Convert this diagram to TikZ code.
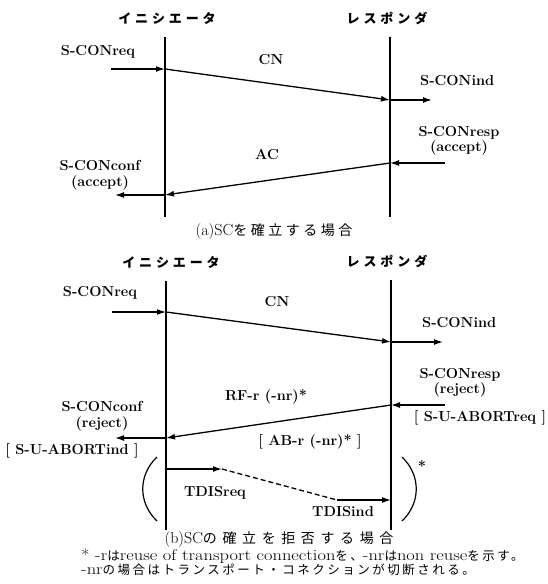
\documentclass[tikz,border=0pt]{standalone}
\usepackage{fontspec}
\usepackage{graphicx}
\usetikzlibrary{arrows.meta}
\newfontfamily\jpfont{Noto Sans CJK JP}
% Japanese runs inside the footnote lines
\newcommand\jp[1]{{\fontsize{12.5}{12}\jpfont\addfontfeatures{LetterSpace=20}#1}}
% Latin runs inside the footnote lines, set wide
\newcommand\wl[1]{\scalebox{1.19}[1]{#1}}
\newcommand\jpcap[1]{{\fontsize{14}{14}\jpfont\addfontfeatures{LetterSpace=25}#1}}
\newcommand\jpcapwide[1]{{\fontsize{14}{14}\jpfont\addfontfeatures{LetterSpace=40}#1}}

\tikzset{
  lifeline/.style={line width=1.4pt},
  msg/.style={line width=1.3pt, -{Latex[length=9pt,width=6pt]}},
  dashmsg/.style={line width=1.3pt, dash pattern=on 5pt off 3pt},
  lbl/.style={inner sep=0pt, font=\fontsize{14.5}{15.5}\selectfont\bfseries, align=center},
  head/.style={inner sep=0pt, font=\fontsize{13}{14}\selectfont\jpfont\bfseries\addfontfeatures{LetterSpace=30}},
  caption/.style={inner sep=0pt, font=\fontsize{16}{16}\selectfont},
  note/.style={inner sep=0pt, font=\fontsize{15.5}{14}\selectfont, anchor=north west, align=left,
    execute at begin node={\lineskiplimit=-20pt\lineskip=0pt}},
  paren/.style={line width=1.2pt}
}

\begin{document}
\begin{tikzpicture}[x=1pt, y=-1pt]
\useasboundingbox (0,0) rectangle (548,584);

% ---------------- (a) connection established ----------------
\node[head] (hiA) at (167,18) {イニシエータ};
\node[head] (hrA) at (387,18) {レスポンダ};

\coordinate (iTopA) at (165,37);  \coordinate (iBotA) at (165,217);
\coordinate (rTopA) at (390,37);  \coordinate (rBotA) at (390,217);
\draw[lifeline] (iTopA) -- (iBotA);
\draw[lifeline] (rTopA) -- (rBotA);

\coordinate (reqInA) at (111,69);   \coordinate (reqA) at (165,69);
\coordinate (indA) at (390,100);    \coordinate (indOutA) at (432,100);
\coordinate (respInA) at (445,163); \coordinate (respA) at (390,163);
\coordinate (confA) at (165,195);   \coordinate (confOutA) at (115,195);

\node[lbl] (lreqA) at (98,52) {S-CONreq};
\node[lbl] (lcnA) at (271,60) {CN};
\node[lbl, anchor=west] (lindA) at (420,81) {S-CONind};
\node[lbl] (lrespA) at (459,141) {S-CONresp\\(accept)};
\node[lbl] (lacA) at (267,155) {AC};
\node[lbl] (lconfA) at (100,175) {S-CONconf\\(accept)};

\draw[msg] (reqInA) -- (reqA);
\draw[msg] (reqA) -- (indA);
\draw[msg] (indA) -- (indOutA);
\draw[msg] (respInA) -- (respA);
\draw[msg] (respA) -- (confA);
\draw[msg] (confA) -- (confOutA);

\node[caption] (capA) at (274,232) {(a)SC\jpcap{を確立する場合}};

% ---------------- (b) connection refused ----------------
\node[head] (hiB) at (171,262) {イニシエータ};
\node[head] (hrB) at (387,261) {レスポンダ};

\coordinate (iTopB) at (166,281);  \coordinate (iBotB) at (166,530);
\coordinate (rTopB) at (391,280);  \coordinate (rBotB) at (391,530);
\draw[lifeline] (iTopB) -- (iBotB);
\draw[lifeline] (rTopB) -- (rBotB);

\coordinate (reqInB) at (112,312);  \coordinate (reqB) at (166,312);
\coordinate (indB) at (391,342);    \coordinate (indOutB) at (443,342);
\coordinate (respInB) at (445,405); \coordinate (respB) at (391,405);
\coordinate (confB) at (166,438);   \coordinate (confOutB) at (115,438);
\coordinate (tdisB) at (166,469);   \coordinate (tdisMidB) at (222,469);
\coordinate (tdisMid2B) at (337,500); \coordinate (tdisEndB) at (391,500);

\node[lbl] (lreqB) at (100,293) {S-CONreq};
\node[lbl] (lcnB) at (277,302) {CN};
\node[lbl, anchor=west] (lindB) at (422,323) {S-CONind};
\node[lbl] (lrespB) at (460,383) {S-CONresp\\(reject)};
\node[lbl] (lrfB) at (266,397) {RF-r (-nr)*};
\node[lbl] (labreqB) at (480,418) {[ S-U-ABORTreq ]};
\node[lbl] (lconfB) at (102,416) {S-CONconf\\(reject)};
\node[lbl] (labindB) at (72,451) {[ S-U-ABORTind ]};
\node[lbl] (labB) at (310,442) {[ AB-r (-nr)* ]};
\node[lbl] (ltreqB) at (215,493) {TDISreq};
\node[lbl] (ltindB) at (343,512) {TDISind};

\draw[msg] (reqInB) -- (reqB);
\draw[msg] (reqB) -- (indB);
\draw[msg] (indB) -- (indOutB);
\draw[msg] (respInB) -- (respB);
\draw[msg] (respB) -- (confB);
\draw[msg] (confB) -- (confOutB);
\draw[msg] (tdisB) -- (tdisMidB);
\draw[dashmsg] (tdisMidB) -- (tdisMid2B);
\draw[msg] (tdisMid2B) -- (tdisEndB);

% optional transport disconnect, shown in brackets
\coordinate (lpTop) at (157,457); \coordinate (lpBot) at (157,521);
\coordinate (rpTop) at (402,457); \coordinate (rpBot) at (402,521);
\draw[paren] (lpTop) .. controls (138,475) and (138,503) .. (lpBot);
\draw[paren] (rpTop) .. controls (421,475) and (421,503) .. (rpBot);
\node[lbl] (star) at (422,466) {*};

\node[caption] (capB) at (279,540) {(b)SC\jpcapwide{の確立を拒否する場合}};
\node[note] (notes) at (81,549) {%
  \wl{* -r}\jp{は}\wl{reuse of transport connection}\jp{を、}\wl{-nr}\jp{は}\wl{non reuse}\jp{を示す。}\\
  \wl{-nr}\jp{の場合はトランスポート・コネクションが切断される。}};
\end{tikzpicture}
\end{document}
